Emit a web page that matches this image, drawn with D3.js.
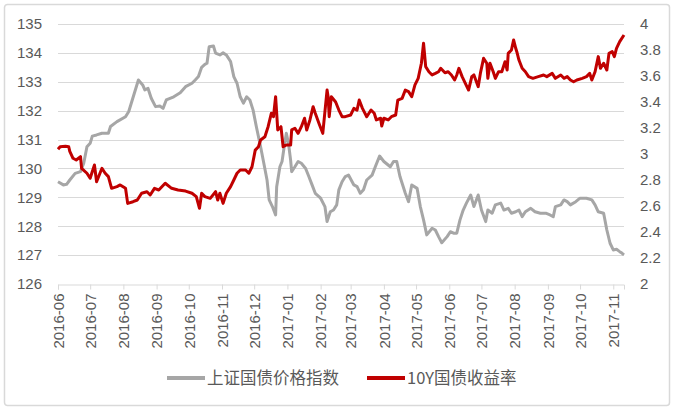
<!DOCTYPE html>
<html>
<head>
<meta charset="utf-8">
<script src="https://cdn.jsdelivr.net/npm/d3@7"></script>
<style>
  body { margin: 0; background: #fff; }
  svg { display: block; }
</style>
</head>
<body>
<div id="chart"></div>
<script>
// 上证国债价格指数 (left axis)
var indexDates = ["2016-06-01","2016-06-06","2016-06-09","2016-06-12","2016-06-17","2016-06-22","2016-06-25","2016-06-28",
  "2016-07-01","2016-07-03","2016-07-07","2016-07-12","2016-07-18","2016-07-20","2016-07-26","2016-08-03","2016-08-06",
  "2016-08-15","2016-08-19","2016-08-21","2016-08-24","2016-08-27","2016-08-31","2016-09-04","2016-09-07","2016-09-10",
  "2016-09-17","2016-09-23","2016-09-28","2016-10-04","2016-10-07","2016-10-10","2016-10-13","2016-10-16","2016-10-18",
  "2016-10-20","2016-10-24","2016-10-26","2016-10-30","2016-11-02","2016-11-05","2016-11-09","2016-11-12","2016-11-15",
  "2016-11-18","2016-11-21","2016-11-24","2016-11-27","2016-11-30","2016-12-03","2016-12-07","2016-12-10","2016-12-13",
  "2016-12-15","2016-12-18","2016-12-21","2016-12-22","2016-12-25","2016-12-27","2016-12-29","2016-12-31","2017-01-02",
  "2017-01-04","2017-01-05","2017-01-08","2017-01-11","2017-01-14","2017-01-18","2017-01-21","2017-01-24","2017-01-27",
  "2017-02-01","2017-02-05","2017-02-07","2017-02-10","2017-02-13","2017-02-16","2017-02-18","2017-02-21","2017-02-24",
  "2017-02-27","2017-03-04","2017-03-07","2017-03-10","2017-03-13","2017-03-16","2017-03-21","2017-03-24","2017-03-28",
  "2017-04-01","2017-04-07","2017-04-10","2017-04-13","2017-04-16","2017-04-21","2017-04-24","2017-04-27","2017-05-02",
  "2017-05-05","2017-05-08","2017-05-11","2017-05-16","2017-05-19","2017-05-22","2017-05-25","2017-05-30","2017-06-02",
  "2017-06-05","2017-06-08","2017-06-11","2017-06-14","2017-06-17","2017-06-21","2017-06-24","2017-06-28","2017-07-01",
  "2017-07-05","2017-07-07","2017-07-11","2017-07-14","2017-07-19","2017-07-22","2017-07-26","2017-07-29","2017-08-02",
  "2017-08-05","2017-08-08","2017-08-11","2017-08-16","2017-08-20","2017-08-25","2017-08-30","2017-09-03","2017-09-06",
  "2017-09-08","2017-09-13","2017-09-16","2017-09-19","2017-09-22","2017-09-27","2017-10-01","2017-10-07","2017-10-12",
  "2017-10-15","2017-10-18","2017-10-23","2017-10-26","2017-10-29","2017-11-01","2017-11-04","2017-11-07","2017-11-09",
  "2017-11-11"];
var indexValues = [129.54,129.43,129.45,129.6,129.83,129.89,130.18,130.75,
  130.87,131.12,131.16,131.22,131.22,131.45,131.62,131.79,131.97,
  133.06,132.89,132.72,132.77,132.43,132.14,132.16,132.08,132.37,
  132.48,132.62,132.83,132.95,133.06,133.18,133.5,133.6,133.64,
  134.21,134.24,133.99,133.93,134.0,133.93,133.7,133.18,132.95,
  132.48,132.26,132.48,132.37,132.02,131.45,130.75,130.18,129.6,
  128.91,128.68,128.39,129.37,130.06,130.24,130.75,131.22,130.87,
  130.29,129.89,130.06,130.24,130.18,130.0,129.72,129.43,129.14,
  128.97,128.68,128.16,128.5,128.56,128.74,129.26,129.54,129.72,
  129.77,129.43,129.37,129.14,129.26,129.6,129.77,130.06,130.43,
  130.24,130.06,130.24,130.24,129.72,129.14,128.85,129.43,129.31,
  128.68,128.22,127.7,127.93,127.87,127.64,127.43,127.64,127.81,
  127.76,127.76,128.22,128.56,128.8,129.08,128.68,129.08,128.56,
  128.16,128.56,128.45,128.74,128.8,128.56,128.62,128.45,128.5,
  128.56,128.33,128.5,128.62,128.5,128.45,128.45,128.39,128.33,
  128.68,128.74,128.91,128.85,128.74,128.85,128.97,128.97,128.91,
  128.74,128.5,128.45,127.87,127.41,127.18,127.2,127.12,127.07,
  127.01];

// 10Y国债收益率 (right axis)
var yieldDates = ["2016-06-01","2016-06-03","2016-06-08","2016-06-11","2016-06-12","2016-06-15","2016-06-18","2016-06-22",
  "2016-06-23","2016-06-28","2016-07-01","2016-07-05","2016-07-07","2016-07-12","2016-07-15","2016-07-18","2016-07-21",
  "2016-07-26","2016-07-29","2016-08-03","2016-08-05","2016-08-10","2016-08-14","2016-08-18","2016-08-23","2016-08-26",
  "2016-08-30","2016-09-03","2016-09-09","2016-09-15","2016-09-21","2016-09-28","2016-10-04","2016-10-08","2016-10-11",
  "2016-10-13","2016-10-16","2016-10-21","2016-10-26","2016-10-28","2016-10-30","2016-11-02","2016-11-05","2016-11-09",
  "2016-11-12","2016-11-15","2016-11-18","2016-11-23","2016-11-26","2016-11-29","2016-12-02","2016-12-05","2016-12-07",
  "2016-12-11","2016-12-14","2016-12-17","2016-12-19","2016-12-21","2016-12-23","2016-12-26","2016-12-28","2016-12-31",
  "2017-01-04","2017-01-05","2017-01-08","2017-01-11","2017-01-14","2017-01-17","2017-01-19","2017-01-22","2017-01-25",
  "2017-01-27","2017-01-31","2017-02-03","2017-02-07","2017-02-08","2017-02-09","2017-02-11","2017-02-15","2017-02-18",
  "2017-02-21","2017-02-24","2017-03-01","2017-03-04","2017-03-07","2017-03-09","2017-03-12","2017-03-16","2017-03-20",
  "2017-03-23","2017-03-25","2017-03-29","2017-03-30","2017-04-01","2017-04-05","2017-04-08","2017-04-12","2017-04-14",
  "2017-04-18","2017-04-21","2017-04-24","2017-04-27","2017-04-30","2017-05-03","2017-05-06","2017-05-08","2017-05-10",
  "2017-05-13","2017-05-16","2017-05-19","2017-05-22","2017-05-24","2017-05-28","2017-05-31","2017-06-03","2017-06-06",
  "2017-06-08","2017-06-10","2017-06-13","2017-06-16","2017-06-19","2017-06-22","2017-06-24","2017-06-28","2017-06-30",
  "2017-07-03","2017-07-06","2017-07-07","2017-07-09","2017-07-12","2017-07-14","2017-07-17","2017-07-20","2017-07-23",
  "2017-07-25","2017-07-26","2017-07-29","2017-07-31","2017-08-02","2017-08-03","2017-08-05","2017-08-08","2017-08-11",
  "2017-08-14","2017-08-18","2017-08-23","2017-08-28","2017-08-31","2017-09-05","2017-09-08","2017-09-13","2017-09-16",
  "2017-09-19","2017-09-22","2017-09-25","2017-09-28","2017-10-03","2017-10-07","2017-10-10","2017-10-12","2017-10-15",
  "2017-10-18","2017-10-20","2017-10-23","2017-10-26","2017-10-28","2017-10-31","2017-11-02","2017-11-04","2017-11-07",
  "2017-11-11"];
var yieldValues = [3.036,3.056,3.06,3.056,3.02,2.967,2.954,2.98,
  2.89,2.852,2.813,2.915,2.787,2.89,2.852,2.826,2.736,
  2.749,2.762,2.736,2.62,2.633,2.646,2.698,2.71,2.685,
  2.736,2.723,2.775,2.736,2.723,2.715,2.698,2.672,2.582,
  2.698,2.672,2.659,2.71,2.646,2.698,2.62,2.698,2.749,
  2.8,2.852,2.877,2.877,2.852,2.902,3.03,3.056,3.108,
  3.133,3.21,3.313,3.287,3.441,3.185,3.21,3.056,3.069,
  3.069,3.185,3.198,3.159,3.21,3.275,3.185,3.262,3.364,
  3.313,3.223,3.159,3.492,3.441,3.287,3.441,3.4,3.338,
  3.287,3.287,3.3,3.351,3.338,3.415,3.351,3.287,3.338,
  3.313,3.262,3.275,3.215,3.275,3.262,3.287,3.3,3.415,
  3.428,3.492,3.48,3.441,3.531,3.582,3.698,3.852,3.672,
  3.633,3.608,3.62,3.633,3.659,3.625,3.633,3.608,3.569,
  3.608,3.659,3.595,3.544,3.492,3.595,3.608,3.518,3.62,
  3.736,3.698,3.582,3.698,3.633,3.582,3.633,3.633,3.71,
  3.646,3.774,3.8,3.877,3.813,3.787,3.723,3.659,3.633,
  3.595,3.582,3.595,3.608,3.595,3.62,3.582,3.608,3.582,
  3.595,3.569,3.556,3.569,3.582,3.595,3.62,3.569,3.633,
  3.749,3.659,3.698,3.646,3.774,3.787,3.749,3.813,3.864,
  3.915];

var seriesNames = ["上证国债价格指数", "10Y国债收益率"];
var leftTicks = [126, 127, 128, 129, 130, 131, 132, 133, 134, 135];
var rightTicks = [2, 2.2, 2.4, 2.6, 2.8, 3, 3.2, 3.4, 3.6, 3.8, 4];
var monthTicks = ["2016-06","2016-07","2016-08","2016-09","2016-10","2016-11","2016-12","2017-01","2017-02",
  "2017-03","2017-04","2017-05","2017-06","2017-07","2017-08","2017-09","2017-10","2017-11"];

drawChart();

function drawChart() {
  var W = 674, H = 410;
  var plotLeft = 58, plotRight = 624, plotTop = 24, plotBottom = 284;
  var numFont = "'Liberation Sans', Arial, sans-serif";
  var cjkFont = "'Microsoft YaHei', 'Noto Sans CJK SC', sans-serif";

  var parse = d3.timeParse("%Y-%m-%d");
  var parseMonth = d3.timeParse("%Y-%m");

  var svg = d3.select("#chart").append("svg")
    .attr("width", W)
    .attr("height", H);

  svg.append("rect")
    .attr("x", 0).attr("y", 0).attr("width", W).attr("height", H)
    .attr("fill", "#fff");

  // outer frame
  svg.append("rect")
    .attr("x", 4.5).attr("y", 4.5)
    .attr("width", W - 9).attr("height", H - 9)
    .attr("rx", 3)
    .attr("fill", "none")
    .attr("stroke", "#d9d9d9")
    .attr("stroke-width", 1.5);

  var x = d3.scaleTime()
    .domain([parse("2016-06-01"), parse("2017-11-11")])
    .range([plotLeft, plotRight]);
  var yL = d3.scaleLinear().domain([126, 135]).range([plotBottom, plotTop]);
  var yR = d3.scaleLinear().domain([2, 4]).range([plotBottom, plotTop]);

  // gridlines
  svg.append("g")
    .selectAll("line")
    .data(leftTicks.slice(1))
    .enter().append("line")
    .attr("x1", plotLeft).attr("x2", plotRight)
    .attr("y1", function(d) { return Math.round(yL(d)) + 0.5; })
    .attr("y2", function(d) { return Math.round(yL(d)) + 0.5; })
    .attr("stroke", "#d9d9d9")
    .attr("stroke-width", 1);

  // x axis
  var xAxis = svg.append("g")
    .attr("transform", "translate(0," + (plotBottom + 0.5) + ")")
    .call(d3.axisBottom(x)
      .tickValues(monthTicks.map(function(m) { return parseMonth(m); }))
      .tickSize(5)
      .tickFormat(d3.timeFormat("%Y-%m")));
  xAxis.select(".domain").attr("stroke", "#d9d9d9");
  xAxis.selectAll(".tick line").attr("stroke", "#d9d9d9");
  xAxis.selectAll(".tick text")
    .attr("transform", "rotate(-90)")
    .attr("x", -9)
    .attr("y", 0)
    .attr("dy", "0.35em")
    .style("text-anchor", "end")
    .style("font-family", numFont)
    .style("font-size", "15px")
    .style("fill", "#595959");

  // left axis
  var yAxisL = svg.append("g")
    .attr("transform", "translate(" + plotLeft + ",0)")
    .call(d3.axisLeft(yL).tickValues(leftTicks).tickSize(0).tickPadding(16));
  yAxisL.select(".domain").remove();
  yAxisL.selectAll(".tick text")
    .style("font-family", numFont)
    .style("font-size", "15px")
    .style("fill", "#595959");

  // right axis
  var yAxisR = svg.append("g")
    .attr("transform", "translate(" + plotRight + ",0)")
    .call(d3.axisRight(yR).tickValues(rightTicks).tickSize(0).tickPadding(16)
      .tickFormat(function(d) { return String(+d.toFixed(1)); }));
  yAxisR.select(".domain").remove();
  yAxisR.selectAll(".tick text")
    .style("font-family", numFont)
    .style("font-size", "15px")
    .style("fill", "#595959");

  // lines
  var indexData = indexDates.map(function(d, i) { return { date: parse(d), value: indexValues[i] }; });
  var yieldData = yieldDates.map(function(d, i) { return { date: parse(d), value: yieldValues[i] }; });

  var lineL = d3.line()
    .x(function(d) { return x(d.date); })
    .y(function(d) { return yL(d.value); });
  var lineR = d3.line()
    .x(function(d) { return x(d.date); })
    .y(function(d) { return yR(d.value); });

  svg.append("path")
    .datum(indexData)
    .attr("fill", "none")
    .attr("stroke", "#a6a6a6")
    .attr("stroke-width", 3)
    .attr("stroke-linejoin", "round")
    .attr("d", lineL);

  svg.append("path")
    .datum(yieldData)
    .attr("fill", "none")
    .attr("stroke", "#c00000")
    .attr("stroke-width", 3)
    .attr("stroke-linejoin", "round")
    .attr("d", lineR);

  // legend
  var legendItems = [
    { name: seriesNames[0], color: "#a6a6a6", x: 167 },
    { name: seriesNames[1], color: "#c00000", x: 367 }
  ];
  var legend = svg.append("g").attr("transform", "translate(0,378)");
  legendItems.forEach(function(item) {
    legend.append("line")
      .attr("x1", item.x).attr("x2", item.x + 38)
      .attr("y1", 0).attr("y2", 0)
      .attr("stroke", item.color)
      .attr("stroke-width", 4);
    legend.append("text")
      .attr("x", item.x + 40)
      .attr("y", 0)
      .attr("dy", "0.35em")
      .style("font-family", cjkFont)
      .style("font-size", "16.5px")
      .style("fill", "#595959")
      .text(item.name);
  });
}
</script>
</body>
</html>
